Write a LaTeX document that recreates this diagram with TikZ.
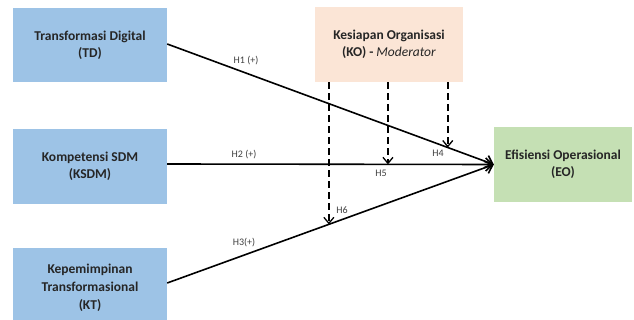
\documentclass[tikz,border=0pt]{standalone}
\usepackage{fontspec}
\setmainfont{Carlito}
\usetikzlibrary{arrows.meta,positioning,calc}
\definecolor{boxblue}{RGB}{157,195,230}
\definecolor{boxpeach}{RGB}{251,229,214}
\definecolor{boxgreen}{RGB}{197,224,180}
\definecolor{txt}{RGB}{38,38,38}
\definecolor{lbl}{RGB}{64,64,64}
\tikzset{
  varbox/.style={rectangle, inner sep=2pt, align=center, text=txt,
    font=\fontsize{13.5}{17}\selectfont\bfseries},
  hyp/.style={font=\fontsize{10}{11}\selectfont, text=lbl, inner sep=0pt},
  path/.style={line width=1.6pt, -{Straight Barb[length=7pt,width=13pt,line width=1.6pt]}},
  modpath/.style={line width=1.6pt, dash pattern=on 7pt off 4pt,
    -{Straight Barb[length=6pt,width=10pt,line width=1.3pt]}}
}
\begin{document}
\begin{tikzpicture}[x=1pt,y=-1pt]
\useasboundingbox (0,0) rectangle (634,320);
\fill[white] (0,0) rectangle (634,320);
\node[varbox, fill=boxblue, minimum width=154pt, minimum height=74pt] (TD) at (90,45) {Transformasi Digital\\(TD)};
\node[varbox, fill=boxblue, minimum width=154pt, minimum height=75pt] (KSDM) at (90,166.5) {Kompetensi SDM\\(KSDM)};
\node[varbox, fill=boxblue, minimum width=154pt, minimum height=80pt, font=\fontsize{13.5}{18}\selectfont\bfseries] (KT) at (90,288) {Kepemimpinan\\Transformasional\\(KT)};
\node[varbox, fill=boxpeach, minimum width=148pt, minimum height=75pt] (KO) at (389,44.5) {Kesiapan Organisasi\\(KO) - \textit{\mdseries Moderator}};
\node[varbox, fill=boxgreen, minimum width=138pt, minimum height=75pt] (EO) at (563,164.5) {Efisiensi Operasional\\(EO)};

\draw[path] (TD.east |- 0,44) -- coordinate[pos=0.859] (m4) (EO.west);
\draw[path] (KSDM.east |- 0,164) -- coordinate[pos=0.676] (m5) (EO.west);
\draw[path] (KT.east |- 0,283) -- coordinate[pos=0.495] (m6) (EO.west);

\draw[modpath] (KO.south -| m4) -- (m4);
\draw[modpath] (KO.south -| m5) -- (m5);
\draw[modpath] (KO.south -| m6) -- (m6);

\node[hyp] (h1) at (246,61) {H1 (+)};
\node[hyp] (h2) at (244,155) {H2 (+)};
\node[hyp] (h3) at (244,243) {H3(+)};
\node[hyp] (h4) at (438,153) {H4};
\node[hyp] (h5) at (381,173) {H5};
\node[hyp] (h6) at (342,210) {H6};
\end{tikzpicture}
\end{document}
